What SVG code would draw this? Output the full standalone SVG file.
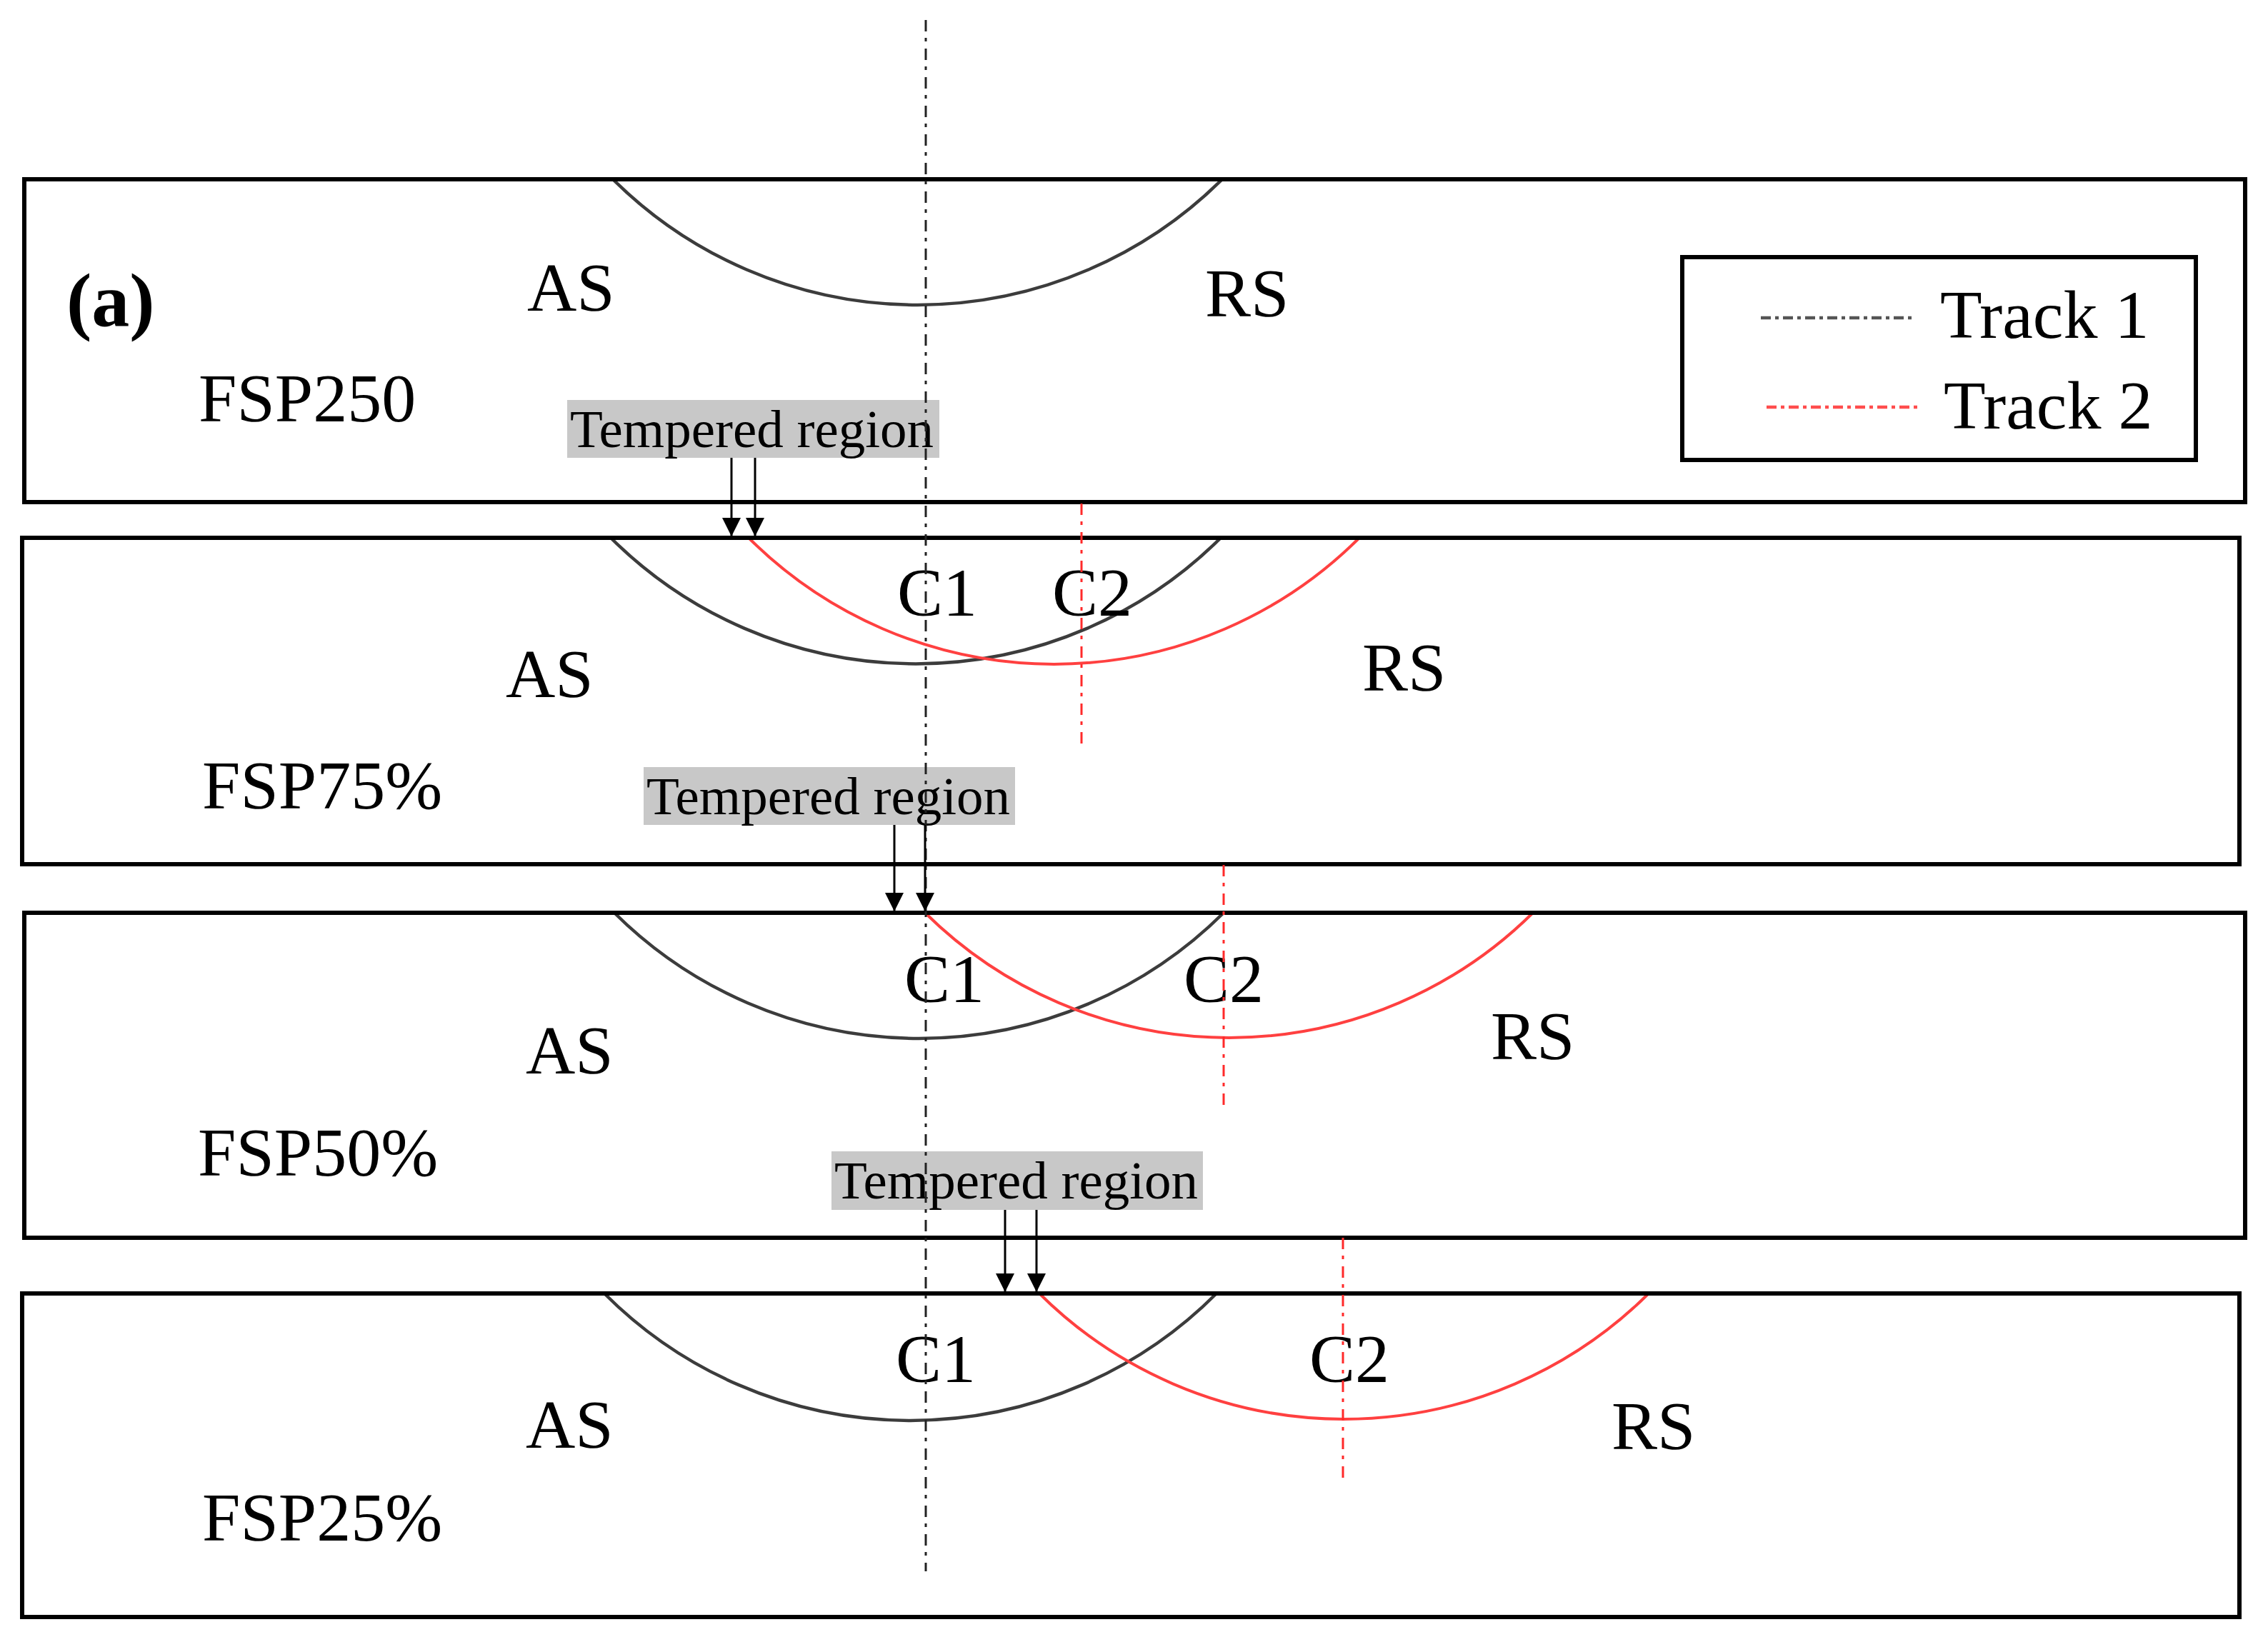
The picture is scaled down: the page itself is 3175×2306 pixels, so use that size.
<svg xmlns="http://www.w3.org/2000/svg" width="3175" height="2306" viewBox="0 0 3175 2306">
<style>
.panel{fill:none;stroke:#000;stroke-width:6}
.lbl{font-family:"Liberation Serif","Times New Roman",serif;font-size:96px;fill:#000}
.tr{font-family:"Liberation Serif","Times New Roman",serif;font-size:75px;fill:#000}
.tbox{fill:#c8c8c8;stroke:none}
.arcK{fill:none;stroke:#3c3c3c;stroke-width:4.5}
.arcR{fill:none;stroke:#ff4040;stroke-width:4}
.t1{fill:none;stroke:#222;stroke-width:3;stroke-dasharray:16 9 5 10}
.t2{fill:none;stroke:#ff2a2a;stroke-width:3;stroke-dasharray:16 9 5 10}
.arrow{fill:none;stroke:#000;stroke-width:3;marker-end:url(#ah)}
</style>
<defs>
<marker id="ah" viewBox="0 0 26 26" refX="26" refY="13" markerWidth="26" markerHeight="26" markerUnits="userSpaceOnUse" orient="auto">
<path d="M0,0 L26,13 L0,26 z" fill="#000"/>
</marker>
</defs>
<rect width="3175" height="2306" fill="#fff"/>

<g id="panel-fsp250">
<path class="arcK" d="M858,251 A605,605 0 0 0 1711,251"/>
<rect class="panel" x="34" y="251" width="3109" height="452"/>
<text class="lbl" x="93" y="456" style="font-weight:bold;font-size:106px">(a)</text>
<text class="lbl" x="738" y="435">AS</text>
<text class="lbl" x="1687" y="443">RS</text>
<text class="lbl" x="278" y="590">FSP250</text>
<g id="tempered-1">
<rect class="tbox" x="794" y="560" width="521" height="81"/>
<text class="tr" x="798" y="626">Tempered region</text>
</g>
</g>

<g id="legend">
<rect x="2355" y="360" width="719" height="284" fill="none" stroke="#000" stroke-width="6"/>
<line x1="2465" y1="445" x2="2679" y2="445" stroke="#555" stroke-width="4.5" stroke-dasharray="14 6 5 6"/>
<text class="lbl" x="2716" y="473">Track 1</text>
<line x1="2473" y1="570" x2="2687" y2="570" stroke="#ff4d4d" stroke-width="4.5" stroke-dasharray="14 6 5 6"/>
<text class="lbl" x="2721" y="600">Track 2</text>
</g>

<g id="panel-fsp75">
<path class="arcK" d="M855,753 A605,605 0 0 0 1709,753"/>
<path class="arcR" d="M1048,753 A605,605 0 0 0 1903,753"/>
<rect class="panel" x="31" y="753" width="3104" height="457"/>
<text class="lbl" x="1256" y="862">C1</text>
<text class="lbl" x="1473" y="862">C2</text>
<text class="lbl" x="708" y="976">AS</text>
<text class="lbl" x="1907" y="967">RS</text>
<text class="lbl" x="283" y="1132">FSP75%</text>
<g id="tempered-2">
<rect class="tbox" x="901" y="1074" width="520" height="81"/>
<text class="tr" x="905" y="1140">Tempered region</text>
</g>
</g>

<g id="panel-fsp50">
<path class="arcK" d="M860,1278 A605,605 0 0 0 1713,1278"/>
<path class="arcR" d="M1295,1278 A605,605 0 0 0 2146,1278"/>
<rect class="panel" x="34" y="1278" width="3109" height="455"/>
<text class="lbl" x="1266" y="1403">C1</text>
<text class="lbl" x="1657" y="1403">C2</text>
<text class="lbl" x="736" y="1503">AS</text>
<text class="lbl" x="2087" y="1483">RS</text>
<text class="lbl" x="277" y="1646">FSP50%</text>
<g id="tempered-3">
<rect class="tbox" x="1164" y="1612" width="520" height="82"/>
<text class="tr" x="1168" y="1678">Tempered region</text>
</g>
</g>

<g id="panel-fsp25">
<path class="arcK" d="M846,1811 A605,605 0 0 0 1703,1811"/>
<path class="arcR" d="M1455,1811 A605,605 0 0 0 2308,1811"/>
<rect class="panel" x="31" y="1811" width="3104" height="453"/>
<text class="lbl" x="1254" y="1935">C1</text>
<text class="lbl" x="1833" y="1935">C2</text>
<text class="lbl" x="736" y="2027">AS</text>
<text class="lbl" x="2256" y="2029">RS</text>
<text class="lbl" x="283" y="2157">FSP25%</text>
</g>

<g id="tracks">
<line class="t1" x1="1296" y1="28" x2="1296" y2="2200"/>
<line class="t2" x1="1514" y1="705" x2="1514" y2="1050"/>
<line class="t2" x1="1713" y1="1211" x2="1713" y2="1553"/>
<line class="t2" x1="1880" y1="1733" x2="1880" y2="2076"/>
</g>

<g id="connectors">
<line class="arrow" x1="1024" y1="641" x2="1024" y2="751"/>
<line class="arrow" x1="1057" y1="641" x2="1057" y2="751"/>
<line class="arrow" x1="1252" y1="1155" x2="1252" y2="1276"/>
<line class="arrow" x1="1295" y1="1155" x2="1295" y2="1276"/>
<line class="arrow" x1="1407" y1="1694" x2="1407" y2="1809"/>
<line class="arrow" x1="1451" y1="1694" x2="1451" y2="1809"/>
</g>
</svg>
